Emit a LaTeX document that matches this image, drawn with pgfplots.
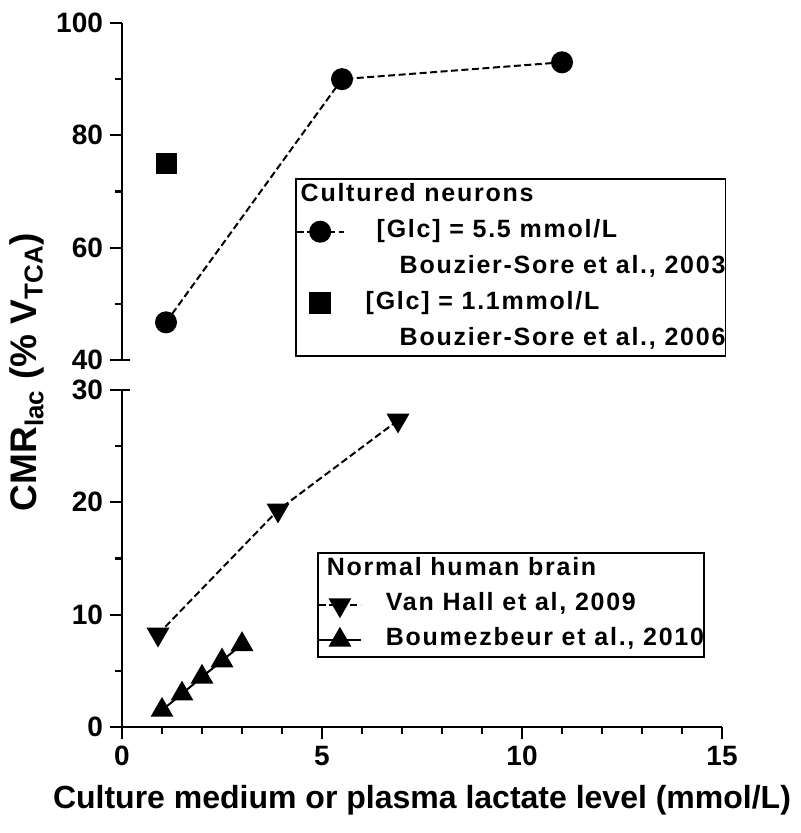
\documentclass[border=0pt]{standalone}
\usepackage{fontspec}
\setmainfont{Liberation Sans}
\newfontfamily\legfont{Liberation Sans}[LetterSpace=7]
\usepackage{pgfplots}
\pgfplotsset{compat=1.18}
\begin{document}
\begin{tikzpicture}
\useasboundingbox (0pt,0pt) rectangle (400pt,416.5pt);
\pgfplotsset{
  common/.style={
    scale only axis, width=300pt, height=168.5pt,
    xmin=0, xmax=15,
    axis line style={-, line width=1.1pt},
    /pgf/number format/assume math mode=true,
    ticklabel style={font=\fontsize{14}{16}\selectfont\bfseries},
    clip=false,
  },
  ticks/.style={
    tick align=outside,
    tick style={line width=1.1pt, black},
    major tick length=6pt, minor tick length=3.5pt,
  },
  legbox/.style={
    draw=black, line width=0.9pt, fill=white,
    font=\fontsize{12.5}{14}\selectfont\legfont\bfseries,
    inner xsep=0pt, inner ysep=2.5pt,
    nodes={inner sep=0pt, text height=9pt, text depth=3pt},
    cells={anchor=west},
  },
}
% upper axis
\begin{axis}[common, at={(61pt,236.5pt)}, anchor=south west,
  ymin=40, ymax=100, ytick={40,60,80,100}, minor ytick={50,70,90},
  axis y line*=left, axis x line=none, ticks,
  legend style={legbox, at={(axis description cs:0.288,0.540)}, anchor=north west,
    row sep=5.9pt, column sep=10.5pt},
  legend image code/.code={\draw[mark repeat=2,mark phase=2,#1] plot coordinates {(0pt,0pt)(11.75pt,0pt)(23.5pt,0pt)};},
]
\addlegendimage{empty legend}
\addlegendentry{\hspace*{-32.5pt}Cultured neurons}
\addplot[black, line width=1pt, dash pattern=on 3.5pt off 1.75pt, mark=*, mark size=5pt, mark options={solid, fill=black}]
  coordinates {(1.1,46.7)(5.5,90.0)(11,93.0)};
\addlegendentry{\hspace*{5.5pt}[Glc] = 5.5 mmol/L}
\addlegendimage{empty legend}
\addlegendentry{\hspace*{17pt}Bouzier-Sore et al., 2003}
\addplot[black, only marks, mark=square*, mark size=5pt, mark options={fill=black}]
  coordinates {(1.1,75)};
\addlegendentry{[Glc] = 1.1mmol/L}
\addlegendimage{empty legend}
\addlegendentry{\hspace*{17pt}Bouzier-Sore et al., 2006}
\draw[line width=1.1pt] (rel axis cs:0,0) -- ++(4pt,0pt);
\end{axis}
% lower axis
\begin{axis}[common, at={(61pt,53pt)}, anchor=south west,
  ymin=0, ymax=30, ytick={0,10,20,30}, minor ytick={5,15,25},
  xtick={0,5,10,15}, minor x tick num=4,
  axis y line*=left, axis x line*=bottom, ticks,
  legend style={legbox, at={(axis description cs:0.325,0.519)}, anchor=north west,
    row sep=5.5pt, column sep=12pt},
  legend image code/.code={\draw[mark repeat=2,mark phase=2,#1] plot coordinates {(0pt,0pt)(10.5pt,0pt)(21pt,0pt)};},
]
\addlegendimage{empty legend}
\addlegendentry{\hspace*{-29.5pt}Normal human brain}
\addplot[black, line width=1pt, dash pattern=on 3.5pt off 1.75pt, mark=triangle*, mark size=5.6pt, mark options={solid, fill=black, rotate=180}]
  coordinates {(0.9,8.25)(3.9,19.3)(6.9,27.3)};
\addlegendentry{Van Hall et al, 2009}
\addplot[black, line width=1pt, solid, mark=triangle*, mark size=5.6pt, mark options={fill=black}]
  coordinates {(1,1.5)(1.5,2.95)(2,4.45)(2.5,5.9)(3,7.35)};
\addlegendentry{Boumezbeur et al., 2010}
\draw[line width=1.1pt] (rel axis cs:0,1) -- ++(4pt,0pt);
\end{axis}
\node[font=\fontsize{16}{18}\selectfont\bfseries, anchor=base] at (211pt,12.5pt) {Culture medium or plasma lactate level (mmol/L)};
\node[font=\fontsize{18.5}{20}\selectfont\bfseries, rotate=90] at (13.5pt,230.5pt) {CMR\textsubscript{lac} (\% V\textsubscript{TCA})};
\end{tikzpicture}
\end{document}
